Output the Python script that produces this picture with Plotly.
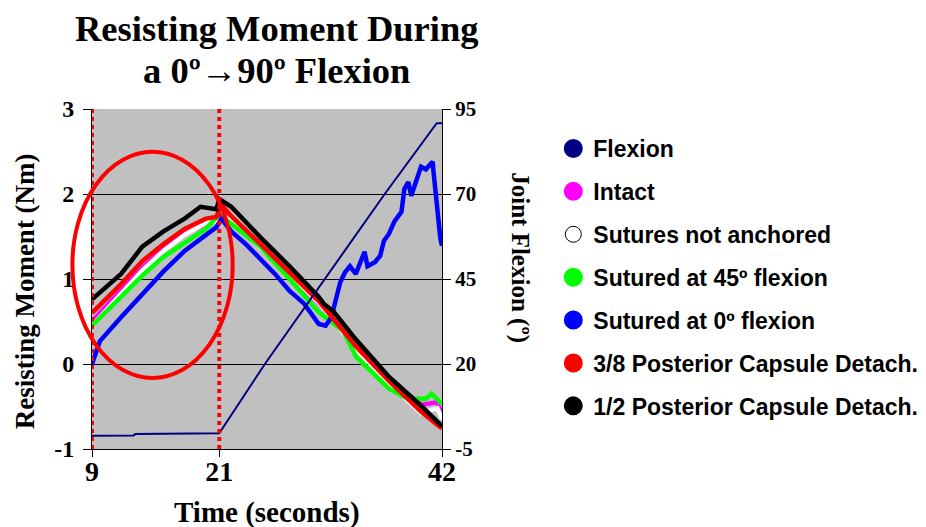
import plotly.graph_objects as go

# ---- data -----------------------------------------------------------------
flex_t = [9.0, 12.9, 13.1, 21.0, 25.3, 36.6, 41.5, 42.0]
flex_deg = [-1.1, -1.0, -0.6, -0.4, 20.0, 70.0, 90.8, 90.8]

black_t = [9.0, 11.74, 13.74, 15.74, 17.73, 19.23, 20.73, 21.0, 22.13, 24.88,
           27.63, 30.38, 30.84, 31.76, 33.87, 36.99, 40.02, 41.85, 42.0]
black_m = [0.76, 1.06, 1.38, 1.56, 1.71, 1.85, 1.82, 1.94, 1.85, 1.49,
           1.15, 0.79, 0.71, 0.62, 0.29, -0.15, -0.49, -0.71, -0.73]

red_t = [9.0, 11.74, 13.74, 15.74, 17.73, 19.73, 20.73, 21.0, 21.3, 22.13,
         24.88, 27.63, 30.38, 33.87, 36.99, 40.02, 41.85, 42.0]
red_m = [0.60, 0.94, 1.21, 1.41, 1.59, 1.71, 1.73, 1.82, 1.86, 1.74,
         1.41, 1.08, 0.74, 0.21, -0.20, -0.56, -0.74, -0.76]

intact_t = [9.0, 11.74, 13.74, 15.74, 17.73, 19.73, 20.73, 21.0, 22.13, 24.88,
            27.63, 30.38, 33.87, 36.99, 40.02, 41.57, 42.0]
intact_m = [0.50, 0.86, 1.13, 1.35, 1.53, 1.65, 1.68, 1.76, 1.70, 1.38,
            1.05, 0.71, 0.19, -0.18, -0.48, -0.45, -0.60]

loose_t = [9.0, 11.74, 13.74, 15.74, 17.73, 19.73, 20.73, 21.0, 22.13, 24.88,
           27.63, 30.38, 33.87, 36.99, 40.02, 41.57, 42.0]
loose_m = [0.45, 0.82, 1.10, 1.33, 1.52, 1.66, 1.68, 1.74, 1.70, 1.37,
           1.06, 0.72, 0.18, -0.22, -0.58, -0.52, -0.65]

green_t = [9.0, 11.74, 13.74, 15.74, 17.73, 19.73, 21.0, 22.13, 24.88, 27.63,
           30.38, 32.68, 33.87, 36.99, 38.8, 40.48, 41.0, 42.0]
green_m = [0.45, 0.79, 1.04, 1.26, 1.43, 1.59, 1.76, 1.65, 1.38, 1.00,
           0.61, 0.39, 0.09, -0.29, -0.41, -0.41, -0.35, -0.47]

blue_t = [9.0, 9.75, 11.74, 13.74, 15.74, 17.73, 19.73, 20.73, 21.2, 22.13,
          23.5, 24.88, 26.25, 27.63, 29.0, 30.38, 31.02, 31.57, 32.03, 32.4,
          32.86, 33.32, 33.87, 34.7, 34.97, 35.7, 36.16, 36.53, 36.99, 37.53,
          38.18, 38.45, 38.82, 39.1, 39.56, 40.02, 40.48, 41.12, 41.2, 41.4,
          41.57, 41.85, 42.0]
blue_m = [0.0, 0.27, 0.55, 0.82, 1.09, 1.33, 1.51, 1.61, 1.71, 1.56,
          1.41, 1.24, 1.06, 0.86, 0.71, 0.47, 0.45, 0.55, 0.76, 0.96,
          1.08, 1.15, 1.06, 1.32, 1.15, 1.20, 1.27, 1.45, 1.53, 1.68,
          1.79, 2.06, 2.14, 1.98, 2.15, 2.32, 2.29, 2.38, 2.26, 2.02,
          1.74, 1.47, 1.39]

x_ticks = [9, 21, 42]
left_ticks = [-1, 0, 1, 2, 3]
right_ticks = [-5, 20, 45, 70, 95]
phase_marks = [9, 21]

moment_series = [
    ("Intact", intact_t, intact_m, "#FF00FF"),
    ("Sutures not anchored", loose_t, loose_m, "#FFFFFF"),
    ("Sutured at 45º flexion", green_t, green_m, "#00FF00"),
    ("Sutured at 0º flexion", blue_t, blue_m, "#0000FF"),
    ("3/8 Posterior Capsule Detach.", red_t, red_m, "#FF0000"),
    ("1/2 Posterior Capsule Detach.", black_t, black_m, "#000000"),
]

SERIF = "Liberation Serif"
SANS = "Liberation Sans"


def tick_text(vals):
    # plain hyphen for negatives, as in a spreadsheet chart
    return [str(v) for v in vals]


fig = go.Figure()

# flexion angle on the secondary axis
fig.add_trace(go.Scatter(x=flex_t, y=flex_deg, yaxis="y2", mode="lines",
                         line=dict(color="#000080", width=2),
                         legendgroup="Flexion", showlegend=False,
                         hoverinfo="skip"))
for name, t, m, c in moment_series:
    fig.add_trace(go.Scatter(x=t, y=m, mode="lines",
                             line=dict(color=c, width=4.5),
                             legendgroup=name, showlegend=False,
                             hoverinfo="skip"))

# legend entries drawn as round markers
legend_items = [("Flexion", "#000080")] + [(n, c) for n, _, _, c in moment_series]
for name, c in legend_items:
    outline = "#000000" if c == "#FFFFFF" else c
    lw = 1 if c == "#FFFFFF" else 3
    fig.add_trace(go.Scatter(x=[None], y=[None], mode="markers", name=name,
                             legendgroup=name,
                             marker=dict(color=c, size=16,
                                         line=dict(color=outline, width=lw))))

# dotted phase boundaries
for t in phase_marks:
    fig.add_shape(type="line", x0=t, x1=t, xref="x", y0=0, y1=1, yref="paper",
                  line=dict(color="#FF0000", width=4, dash="4px,4px"),
                  layer="above")

# highlight ring around the loading phase
fig.add_shape(type="circle", xref="paper", yref="paper",
              x0=-0.056, x1=0.402, y0=0.209, y1=0.874,
              line=dict(color="#FF0000", width=4), layer="above")

fig.update_layout(
    width=926, height=527,
    margin=dict(l=92, r=484, t=109, b=78, autoexpand=False),
    paper_bgcolor="#FFFFFF",
    plot_bgcolor="#C0C0C0",
    showlegend=True,
    legend=dict(x=1.318, y=0.947, xanchor="left", yanchor="top",
                font=dict(family=SANS, size=23, color="#000000", weight="bold"),
                tracegroupgap=10, bgcolor="rgba(0,0,0,0)"),
    xaxis=dict(range=[9, 42], tickvals=x_ticks, ticktext=tick_text(x_ticks),
               ticks="outside", ticklen=7,
               tickcolor="#000000", showline=True, linecolor="#000000",
               linewidth=1, showgrid=False, zeroline=False,
               ticklabelstandoff=-10,
               tickfont=dict(family=SERIF, size=28, color="#000000",
                             weight="bold")),
    yaxis=dict(range=[-1, 3], tickvals=left_ticks,
               ticktext=tick_text(left_ticks), ticks="outside", ticklen=8,
               tickcolor="#000000", showline=True, linecolor="#000000",
               linewidth=1, showgrid=True, gridcolor="#000000", gridwidth=1,
               zeroline=False, ticklabelstandoff=4,
               tickfont=dict(family=SERIF, size=24, color="#000000",
                             weight="bold")),
    yaxis2=dict(range=[-5, 95], tickvals=right_ticks,
                ticktext=tick_text(right_ticks), overlaying="y",
                side="right", ticks="outside", ticklen=8, tickcolor="#000000",
                showline=True, linecolor="#000000", linewidth=1,
                showgrid=False, zeroline=False,
                tickfont=dict(family=SERIF, size=21, color="#000000",
                              weight="bold")),
    annotations=[
        dict(text="Resisting Moment During",
             xref="paper", yref="paper", x=0.528, y=1.238,
             xanchor="center", yanchor="middle", showarrow=False,
             font=dict(family=SERIF, size=36.5, color="#000000", weight="bold")),
        dict(text="a 0º→90º Flexion",
             xref="paper", yref="paper", x=0.528, y=1.112,
             xanchor="center", yanchor="middle", showarrow=False,
             font=dict(family=SERIF, size=36.5, color="#000000", weight="bold")),
        dict(text="Resisting Moment (Nm)", textangle=-90,
             xref="paper", yref="paper", x=-0.193, y=0.465,
             xanchor="center", yanchor="middle", showarrow=False,
             font=dict(family=SERIF, size=27, color="#000000", weight="bold")),
        dict(text="Joint Flexion (º)", textangle=90,
             xref="paper", yref="paper", x=1.222, y=0.562,
             xanchor="center", yanchor="middle", showarrow=False,
             font=dict(family=SERIF, size=25, color="#000000", weight="bold")),
        dict(text="Time (seconds)",
             xref="paper", yref="paper", x=0.5, y=-0.188,
             xanchor="center", yanchor="middle", showarrow=False,
             font=dict(family=SERIF, size=29, color="#000000", weight="bold")),
    ],
)

fig.write_html("out.html")
